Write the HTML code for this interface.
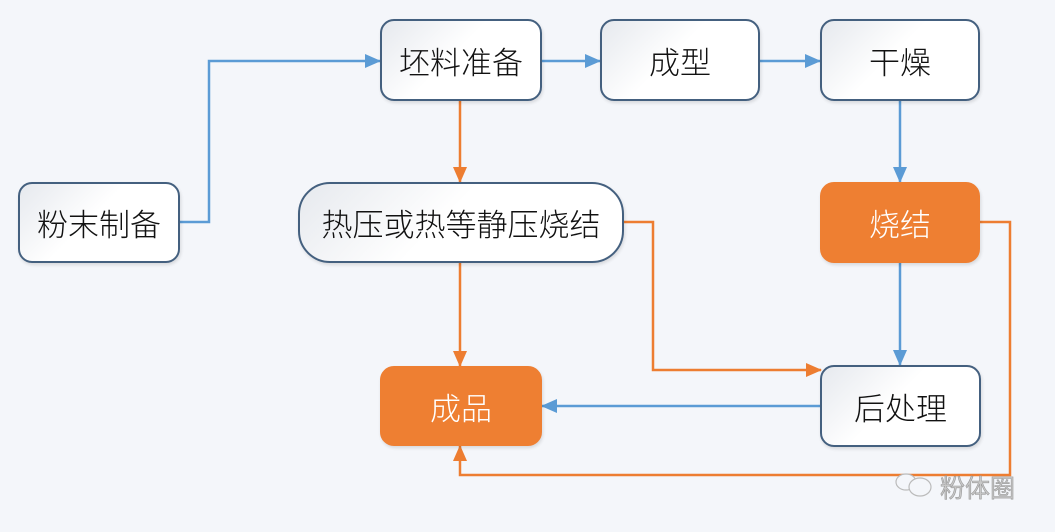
<!DOCTYPE html>
<html><head><meta charset="utf-8"><style>
html,body{margin:0;padding:0;}
body{width:1055px;height:532px;background:#f4f6fa;position:relative;overflow:hidden;font-family:"Liberation Sans","Noto Sans CJK SC",sans-serif;}
.b{position:absolute;box-sizing:border-box;border:2px solid #44607f;border-radius:14px;background:linear-gradient(135deg,#e6e9ee 0%,#ffffff 45%,#ffffff 100%);display:flex;align-items:center;justify-content:center;font-size:31px;font-weight:300;color:#111;box-shadow:1px 2px 3px rgba(0,0,0,0.12);}
.o{background:#ee7f32;border-color:#ee7f32;color:#fff;}
svg{position:absolute;left:0;top:0;}
</style></head><body>
<svg width="1055" height="532">
<defs>
<marker id="ab" markerWidth="16" markerHeight="16" refX="15" refY="8" orient="auto" markerUnits="userSpaceOnUse"><path d="M0,1 L16,8 L0,15 Z" fill="#5b9bd5"/></marker>
<marker id="ao" markerWidth="16" markerHeight="16" refX="15" refY="8" orient="auto" markerUnits="userSpaceOnUse"><path d="M0,1 L16,8 L0,15 Z" fill="#ed7d31"/></marker>
</defs>
<g fill="none" stroke-width="2.5">
<polyline points="180,222 209,222 209,61 380,61" stroke="#5b9bd5" marker-end="url(#ab)"/>
<polyline points="542,61 600,61" stroke="#5b9bd5" marker-end="url(#ab)"/>
<polyline points="760,61 820,61" stroke="#5b9bd5" marker-end="url(#ab)"/>
<polyline points="900,101 900,182" stroke="#5b9bd5" marker-end="url(#ab)"/>
<polyline points="900,263 900,365" stroke="#5b9bd5" marker-end="url(#ab)"/>
<polyline points="820,406 542,406" stroke="#5b9bd5" marker-end="url(#ab)"/>
<polyline points="460,101 460,182" stroke="#ed7d31" marker-end="url(#ao)"/>
<polyline points="460,263 460,366" stroke="#ed7d31" marker-end="url(#ao)"/>
<polyline points="624,222 653,222 653,370 821,370" stroke="#ed7d31" marker-end="url(#ao)"/>
<polyline points="980,222 1010,222 1010,475 460,475 460,446" stroke="#ed7d31" marker-end="url(#ao)"/>
</g>
<g fill="#f4f6fa" stroke="#bbb" stroke-width="1.2">
<ellipse cx="906" cy="482" rx="10" ry="8"/>
<ellipse cx="920" cy="487" rx="11" ry="9"/>
</g>
<text x="940" y="497" font-size="25" fill="#c8c8c8" stroke="#999" stroke-width="0.6" font-family="Liberation Sans,Noto Sans CJK SC,sans-serif">粉体圈</text>
</svg>
<div class="b" style="left:18px;top:182px;width:162px;height:81px;">粉末制备</div>
<div class="b" style="left:380px;top:19px;width:162px;height:82px;">坯料准备</div>
<div class="b" style="left:600px;top:19px;width:160px;height:82px;">成型</div>
<div class="b" style="left:820px;top:19px;width:160px;height:82px;">干燥</div>
<div class="b" style="left:298px;top:182px;width:326px;height:81px;border-radius:32px;">热压或热等静压烧结</div>
<div class="b o" style="left:820px;top:182px;width:160px;height:81px;">烧结</div>
<div class="b o" style="left:380px;top:366px;width:162px;height:80px;">成品</div>
<div class="b" style="left:820px;top:365px;width:161px;height:82px;">后处理</div>
</body></html>
